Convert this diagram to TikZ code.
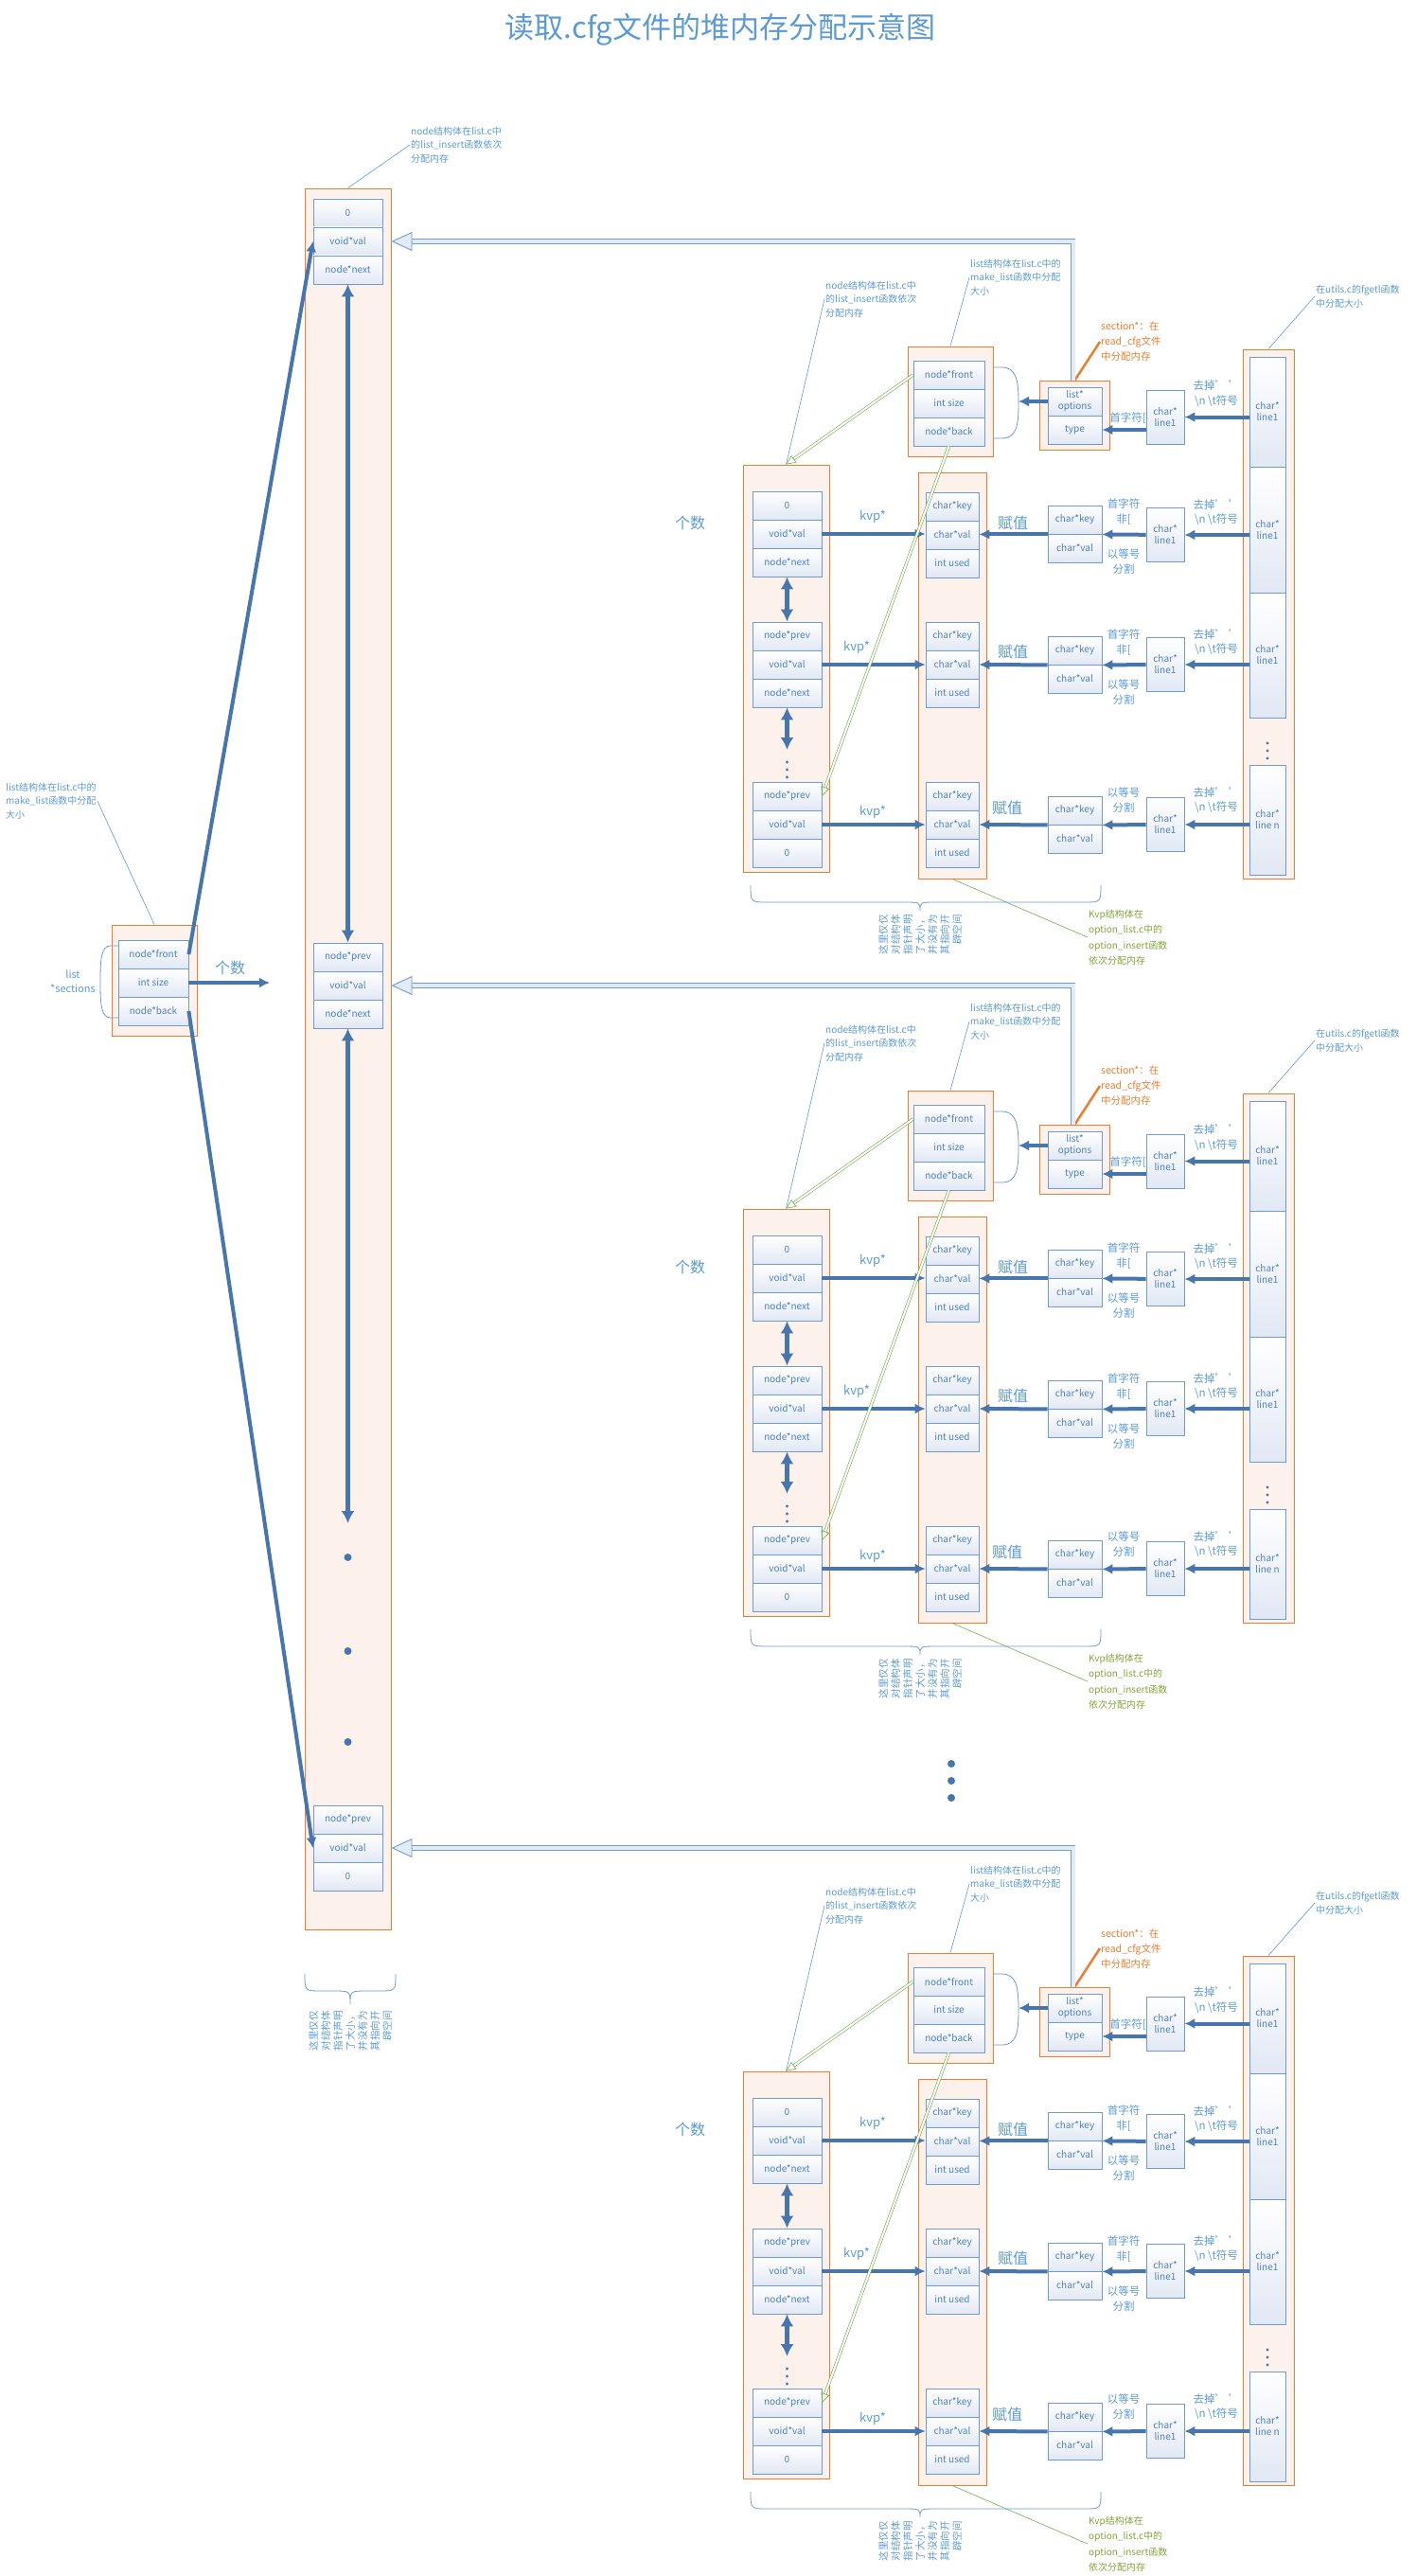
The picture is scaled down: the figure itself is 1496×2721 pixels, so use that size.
\documentclass[tikz,border=0pt]{standalone}
\usepackage{fontspec}
\setmainfont{Noto Sans CJK SC}
\usetikzlibrary{arrows.meta,calc}
\pgfdeclarelayer{boxlayer}
\pgfdeclarelayer{nodelayer}
\pgfsetlayers{boxlayer,nodelayer,main}
\definecolor{txtblue}{HTML}{5B9BD5}
\definecolor{cellblue}{HTML}{6E9BD0}
\definecolor{celltxt}{HTML}{4F81BD}
\definecolor{cellfill}{HTML}{E1E8F4}
\definecolor{boxorange}{HTML}{ED7D31}
\definecolor{boxfill}{HTML}{FDF1EB}
\definecolor{arrowblue}{HTML}{4776AF}
\definecolor{hollowfill}{HTML}{E3EBF6}
\definecolor{kvgreen}{HTML}{70AD47}
\definecolor{kvtxt}{HTML}{82A53A}
\tikzstyle{heap}=[rectangle, draw=boxorange, line width=0.9pt, fill=boxfill, inner sep=0pt]
\tikzstyle{cell}=[rectangle, draw=cellblue, line width=0.8pt, top color=white, bottom color=cellfill, text=celltxt, inner sep=0pt, align=center, minimum height=30pt, font=\fontsize{10}{12}\selectfont]
\tikzstyle{ptr}=[draw=arrowblue, line width=4pt, -{Latex[length=11pt,width=11pt]}]
\tikzstyle{dblptr}=[draw=arrowblue, line width=5pt, {Latex[length=13pt,width=14pt]}-{Latex[length=13pt,width=14pt]}]
\tikzstyle{hollow}=[draw=cellblue, line width=0.9pt, double=hollowfill, double distance=4pt]
\tikzstyle{hollowtip}=[draw=cellblue, line width=0.9pt, -{Triangle[fill=hollowfill,length=22pt,width=20pt]}]
\tikzstyle{kvline}=[draw=kvgreen, line width=0.6pt, double=white, double distance=2pt]
\tikzstyle{kvtip}=[draw=kvgreen, line width=0.6pt, -{Triangle[open,length=10pt,width=9pt]}]
\tikzstyle{note}=[draw=txtblue, line width=0.6pt]
\tikzstyle{notetext}=[text=txtblue, align=left, inner sep=1pt, font=\fontsize{10}{14.5}\selectfont]
\tikzstyle{lbl}=[text=txtblue, inner sep=0pt, align=center, font=\fontsize{11.5}{15.5}\selectfont]
\tikzstyle{biglbl}=[text=txtblue, inner sep=0pt, font=\fontsize{16}{18}\selectfont]
\tikzstyle{vtext}=[text=txtblue, rotate=90, anchor=east, align=right, inner sep=0pt, font=\fontsize{10.5}{13}\selectfont]
\tikzstyle{brace}=[draw=cellblue, line width=0.8pt]
\tikzstyle{bluedot}=[fill=arrowblue]

% one section: list + node chain + kvp + lines read by fgetl
\newcommand{\cfgblock}[3]{%
\begin{scope}[yshift=-#1pt]
\begin{pgfonlayer}{boxlayer}
	\node [heap, minimum width=91pt, minimum height=430pt] (#2nb) at (830.5,706) {};
	\node [heap, minimum width=72pt, minimum height=429pt] (#2kb) at (1006,713.5) {};
	\node [heap, minimum width=90pt, minimum height=116pt] (#2lb) at (1004,424) {};
	\node [heap, minimum width=74pt, minimum height=73pt] (#2sb) at (1135.5,438.5) {};
	\node [heap, minimum width=54pt, minimum height=559pt] (#2rb) at (1340,648.5) {};
\end{pgfonlayer}
\begin{pgfonlayer}{nodelayer}
	\node [cell, minimum width=75pt] (#2l1) at (1002.5,396) {node*front};
	\node [cell, minimum width=75pt] (#2l2) at (1002.5,426) {int size};
	\node [cell, minimum width=75pt] (#2l3) at (1002.5,456) {node*back};
	\node [cell, minimum width=57pt] (#2s1) at (1135.5,424) {list*\\options};
	\node [cell, minimum width=57pt] (#2s2) at (1135.5,454) {type};
	\node [cell, minimum width=40pt, minimum height=57pt] (#2r0) at (1231,440.5) {char*\\line1};
	\node [cell, minimum width=38pt, minimum height=116pt] (#2c1) at (1339,435) {char*\\line1};
	\node [cell, minimum width=38pt, minimum height=133pt] (#2c2) at (1339,559.5) {char*\\line1};
	\node [cell, minimum width=38pt, minimum height=132pt] (#2c3) at (1339,692) {char*\\line1};
	\node [cell, minimum width=38pt, minimum height=116pt] (#2c4) at (1339,866) {char*\\line n};
	\node [cell, minimum width=73pt] (#2a1) at (831.5,534) {0};
	\node [cell, minimum width=73pt] (#2a2) at (831.5,564) {void*val};
	\node [cell, minimum width=73pt] (#2a3) at (831.5,594) {node*next};
	\node [cell, minimum width=73pt] (#2b1) at (831.5,672) {node*prev};
	\node [cell, minimum width=73pt] (#2b2) at (831.5,702) {void*val};
	\node [cell, minimum width=73pt] (#2b3) at (831.5,732) {node*next};
	\node [cell, minimum width=73pt] (#2d1) at (831.5,841) {node*prev};
	\node [cell, minimum width=73pt] (#2d2) at (831.5,871) {void*val};
	\node [cell, minimum width=73pt] (#2d3) at (831.5,901) {0};
	\node [cell, minimum width=56pt] (#2k1) at (1006,535) {char*key};
	\node [cell, minimum width=56pt] (#2k2) at (1006,565) {char*val};
	\node [cell, minimum width=56pt] (#2k3) at (1006,595) {int used};
	\node [cell, minimum width=56pt] (#2k4) at (1006,672) {char*key};
	\node [cell, minimum width=56pt] (#2k5) at (1006,702) {char*val};
	\node [cell, minimum width=56pt] (#2k6) at (1006,732) {int used};
	\node [cell, minimum width=56pt] (#2k7) at (1006,841) {char*key};
	\node [cell, minimum width=56pt] (#2k8) at (1006,871) {char*val};
	\node [cell, minimum width=56pt] (#2k9) at (1006,901) {int used};
	\node [cell, minimum width=57pt] (#2v1) at (1135.5,549) {char*key};
	\node [cell, minimum width=57pt] (#2v2) at (1135.5,579) {char*val};
	\node [cell, minimum width=57pt] (#2v3) at (1135.5,687) {char*key};
	\node [cell, minimum width=57pt] (#2v4) at (1135.5,717) {char*val};
	\node [cell, minimum width=57pt] (#2v5) at (1135.5,856) {char*key};
	\node [cell, minimum width=57pt] (#2v6) at (1135.5,886) {char*val};
	\node [cell, minimum width=40pt, minimum height=57pt] (#2r1) at (1231,565) {char*\\line1};
	\node [cell, minimum width=40pt, minimum height=57pt] (#2r2) at (1231,702) {char*\\line1};
	\node [cell, minimum width=40pt, minimum height=57pt] (#2r3) at (1231,871) {char*\\line1};
\end{pgfonlayer}
	\coordinate (#2e) at (831.5,792);
	\coordinate (#2br) at (1076,426);
	% labels
	\node [biglbl] (#2g0) at (729,552) {个数};
	\node [biglbl, font=\fontsize{13}{15}\selectfont] (#2g1) at (922,546) {kvp*};
	\node [biglbl, font=\fontsize{13}{15}\selectfont] (#2g2) at (905,684) {kvp*};
	\node [biglbl, font=\fontsize{13}{15}\selectfont] (#2g3) at (922,858) {kvp*};
	\node [biglbl] (#2h1) at (1070,552) {赋值};
	\node [biglbl] (#2h2) at (1070,688) {赋值};
	\node [biglbl] (#2h3) at (1064,853) {赋值};
	\node [lbl, anchor=east] (#2i0) at (1211,442) {首字符[};
	\node [lbl] (#2i1) at (1187,540.5) {首字符\\非[};
	\node [lbl] (#2i2) at (1187,593) {以等号\\分割};
	\node [lbl] (#2i3) at (1187,678.5) {首字符\\非[};
	\node [lbl] (#2i4) at (1187,731) {以等号\\分割};
	\node [lbl] (#2i5) at (1187,845) {以等号\\分割};
	\node [lbl] (#2j0) at (1285,415.5) {去掉’ ’\\\textbackslash n \textbackslash t符号};
	\node [lbl] (#2j1) at (1285,541) {去掉’ ’\\\textbackslash n \textbackslash t符号};
	\node [lbl] (#2j2) at (1285,678) {去掉’ ’\\\textbackslash n \textbackslash t符号};
	\node [lbl] (#2j3) at (1285,845) {去掉’ ’\\\textbackslash n \textbackslash t符号};
	\node [notetext, anchor=west] (#2t1) at (871,316) {node结构体在list.c中\\的list\_insert函数依次\\分配内存};
	\node [notetext, anchor=west] (#2t2) at (1024,293) {list结构体在list.c中的\\make\_list函数中分配\\大小};
	\node [notetext, anchor=west, text=boxorange, font=\fontsize{10.5}{16}\selectfont] (#2t3) at (1162,361) {section*：在\\read\_cfg文件\\中分配内存};
	\node [notetext, anchor=west, font=\fontsize{10}{15}\selectfont] (#2t4) at (1389,313) {在utils.c的fgetl函数\\中分配大小};
	\node [notetext, anchor=west, text=kvtxt, font=\fontsize{10}{16.5}\selectfont] (#2t5) at (1149,990) {Kvp结构体在\\option\_list.c中的\\option\_insert函数\\依次分配内存};
	\node [vtext] (#2t6) at (972,966) {这里仅仅\\对结构体\\指针声明\\了大小，\\并没有为\\其指向开\\辟空间};
	% notes
	\draw [note] (#2t1.west) -- (#2nb.north);
	\draw [note] (#2t2.west) -- (#2lb.north);
	\draw [note] (#2t4.west) -- (#2rb.north);
	\draw [draw=boxorange, line width=2.5pt] (#2t3.west) -- (#2sb.north);
	\draw [draw=kvgreen, line width=0.6pt] (#2kb.south) -- (#2t5.west);
	\draw [brace] (1049,388) -- (1058,388) .. controls (1074,388) and (1076,402) .. (1076,426) .. controls (1076,450) and (1074,463) .. (1058,463) -- (1049,463);
	\draw [brace] (793,935) .. controls (793,953) .. (811,953) -- (954,953) .. controls (972,953) .. (972,962) .. controls (972,953) .. (990,953) -- (1145,953) .. controls (1163,953) .. (1163,935);
	% pointers
	\draw [dblptr] (#2a3) -- (#2b1);
	\draw [dblptr] (#2b3) -- (#2e);
	\fill [bluedot] (831.5,805) circle (1.6pt) (831.5,813) circle (1.6pt) (831.5,821) circle (1.6pt);
	\fill [bluedot] (1339,785) circle (1.6pt) (1339,793) circle (1.6pt) (1339,801) circle (1.6pt);
	\draw [ptr] (#2a2) -- (#2a2 -| #2k2.west);
	\draw [ptr] (#2b2) -- (#2k5);
	\draw [ptr] (#2d2) -- (#2k8);
	\draw [ptr] (#2v1.south west) -- (#2v1.south west -| #2k2.east);
	\draw [ptr] (#2v3.south west) -- (#2k5.east);
	\draw [ptr] (#2v5.south west) -- (#2k8.east);
	\draw [ptr] (#2r1) -- (#2v1.south east);
	\draw [ptr] (#2r2) -- (#2v3.south east);
	\draw [ptr] (#2r3) -- (#2v5.south east);
	\draw [ptr] (#2c1.west |- #2r0.east) -- (#2r0.east);
	\draw [ptr] (#2c2.west |- #2r1.east) -- (#2r1.east);
	\draw [ptr] (#2c3.west |- #2r2.east) -- (#2r2.east);
	\draw [ptr] (#2c4.west |- #2r3.east) -- (#2r3.east);
	\draw [ptr] (#2r0.west |- #2s2.east) -- (#2s2.east);
	\draw [ptr] (#2s1.west) -- (#2s1.west -| #2br);
	\draw [kvline] (#2l1.west) -- ($(#2nb.north)!10pt!(#2l1.west)$);
	\draw [kvtip] ($(#2nb.north)!10pt!(#2l1.west)$) -- (#2nb.north);
	\draw [kvline] (#2l3.south) -- ($(#2d1.east)!10pt!(#2l3.south)$);
	\draw [kvtip] ($(#2d1.east)!10pt!(#2l3.south)$) -- (#2d1.east);
	\draw [hollow] ([xshift=-2pt]#2sb.north) |- ($(mid.east |- #3)+(22,0)$);
	\draw [hollowtip] ($(mid.east |- #3)+(22,0)$) -- (mid.east |- #3);
\end{scope}}

\begin{document}
\begin{tikzpicture}[x=1pt, y=-1pt]
	\begin{pgfonlayer}{boxlayer}
		\path [use as bounding box, fill=white] (0,0) rectangle (1496,2721);
		\node [heap, minimum width=91pt, minimum height=1839pt] (mid) at (367.5,1118.5) {};
		\node [heap, minimum width=90pt, minimum height=117pt] (lst) at (163,1035.5) {};
	\end{pgfonlayer}
	\begin{pgfonlayer}{nodelayer}
		\node [cell, minimum width=73pt] (m1) at (367.5,225) {0};
		\node [cell, minimum width=73pt] (m2) at (367.5,255) {void*val};
		\node [cell, minimum width=73pt] (m3) at (367.5,285) {node*next};
		\node [cell, minimum width=73pt] (m4) at (367.5,1011) {node*prev};
		\node [cell, minimum width=73pt] (m5) at (367.5,1041) {void*val};
		\node [cell, minimum width=73pt] (m6) at (367.5,1071) {node*next};
		\node [cell, minimum width=73pt] (m7) at (367.5,1922) {node*prev};
		\node [cell, minimum width=73pt] (m8) at (367.5,1952) {void*val};
		\node [cell, minimum width=73pt] (m9) at (367.5,1982) {0};
		\node [cell, minimum width=74pt] (f1) at (162,1008) {node*front};
		\node [cell, minimum width=74pt] (f2) at (162,1038) {int size};
		\node [cell, minimum width=74pt] (f3) at (162,1068) {node*back};
	\end{pgfonlayer}
	\node [text=txtblue, font=\fontsize{31}{36}\selectfont] (title) at (761,31) {读取.cfg文件的堆内存分配示意图};
	\node [notetext, anchor=west] (tm) at (433,153) {node结构体在list.c中\\的list\_insert函数依次\\分配内存};
	\node [notetext, anchor=west] (tl) at (5,846) {list结构体在list.c中的\\make\_list函数中分配\\大小};
	\node [lbl, font=\fontsize{11}{15}\selectfont] (ts) at (77,1037) {list\\*sections};
	\node [biglbl] (tc) at (243,1022) {个数};
	\node [vtext] (tv) at (370,2124) {这里仅仅\\对结构体\\指针声明\\了大小，\\并没有为\\其指向开\\辟空间};
	\coordinate (cnt) at (285,1038);
	\coordinate (m10) at (367.5,1609);
	\draw [note] (tm.west) -- (mid.north);
	\draw [note] (tl.east) -- (lst.north);
	\draw [brace] (125,999) -- (117,999) .. controls (107,999) and (106,1012) .. (106,1037) .. controls (106,1062) and (107,1075) .. (117,1075) -- (125,1075);
	\draw [brace] (322,2085) .. controls (322,2103) .. (340,2103) -- (352,2103) .. controls (370,2103) .. (370,2117) .. controls (370,2103) .. (388,2103) -- (400,2103) .. controls (418,2103) .. (418,2085);
	\draw [ptr] (f1.east) -- (m2.west);
	\draw [ptr] (f3.east) -- (m8.west);
	\draw [ptr] (f2) -- (cnt);
	\draw [dblptr] (m3) -- (m4);
	\draw [dblptr] (m6) -- (m10);
	\fill [bluedot] (367.5,1645) circle (4pt) (367.5,1744) circle (4pt) (367.5,1840) circle (4pt);
	\fill [bluedot] (1005,1863) circle (4pt) (1005,1881) circle (4pt) (1005,1899) circle (4pt);
	\cfgblock{0}{a}{m2}
	\cfgblock{786}{b}{m5}
	\cfgblock{1697}{c}{m8}
\end{tikzpicture}
\end{document}
